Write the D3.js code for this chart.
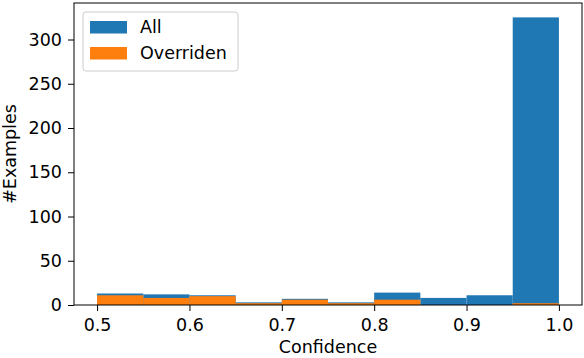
<!DOCTYPE html>
<html>
<head>
<meta charset="utf-8">
<script src="https://cdn.jsdelivr.net/npm/d3@7"></script>
<style>
  body { margin: 0; background: #fff; }
  text { font-family: "DejaVu Sans", sans-serif; }
</style>
</head>
<body>
<div id="chart"></div>
<script>
// histogram bins (10 bins, 0.5 .. 1.0)
var binEdges = [0.5, 0.55, 0.6, 0.65, 0.7, 0.75, 0.8, 0.85, 0.9, 0.95, 1.0];
var allCounts = [13, 12, 11, 3, 7, 3, 14, 8, 11, 325];
var overCounts = [11, 8, 10, 2, 6, 2, 6, 0, 0, 2];
var seriesNames = ["All", "Overriden"];
var seriesColors = ["#1f77b4", "#ff7f0e"];
var xTicks = [0.5, 0.6, 0.7, 0.8, 0.9, 1.0];
var yTicks = [0, 50, 100, 150, 200, 250, 300];

var width = 584, height = 358;
var margin = {top: 3, right: 2, bottom: 53, left: 74};
var fs = 17.5;

var svg = d3.select("#chart").append("svg")
    .attr("width", width)
    .attr("height", height);

var x = d3.scaleLinear()
    .domain([0.475, 1.025])
    .range([margin.left, width - margin.right]);
var y = d3.scaleLinear()
    .domain([0, 341.25])
    .range([height - margin.bottom, margin.top]);

// bars
[allCounts, overCounts].forEach(function(counts, s) {
    svg.append("g").selectAll("rect")
        .data(counts)
        .enter().append("rect")
        .attr("x", function(d, i) { return x(binEdges[i]); })
        .attr("width", function(d, i) { return x(binEdges[i + 1]) - x(binEdges[i]); })
        .attr("y", function(d) { return y(d); })
        .attr("height", function(d) { return y(0) - y(d); })
        .style("fill", seriesColors[s]);
});

// axes
var xAxis = svg.append("g")
    .attr("transform", "translate(0," + (height - margin.bottom) + ")")
    .call(d3.axisBottom(x).tickValues(xTicks).tickFormat(d3.format(".1f")).tickSize(6).tickPadding(8));
var yAxis = svg.append("g")
    .attr("transform", "translate(" + margin.left + ",0)")
    .call(d3.axisLeft(y).tickValues(yTicks).tickSize(6).tickPadding(6));
[xAxis, yAxis].forEach(function(a) {
    a.select(".domain").remove();
    a.selectAll("line").attr("stroke", "#000").attr("stroke-width", 1);
    a.selectAll("text").attr("font-size", fs).attr("fill", "#000")
        .style("font-family", "DejaVu Sans, sans-serif");
});

// frame
svg.append("rect")
    .attr("x", margin.left)
    .attr("y", margin.top)
    .attr("width", width - margin.left - margin.right)
    .attr("height", height - margin.top - margin.bottom)
    .style("fill", "none")
    .style("stroke", "#000")
    .style("stroke-width", 1);

// labels
svg.append("text")
    .attr("x", x(0.75))
    .attr("y", 353)
    .attr("text-anchor", "middle")
    .attr("font-size", fs)
    .text("Confidence");
svg.append("text")
    .attr("transform", "translate(15.5," + ((margin.top + height - margin.bottom) / 2) + ") rotate(-90)")
    .attr("text-anchor", "middle")
    .attr("font-size", fs)
    .text("#Examples");

// legend
var legend = svg.append("g").attr("transform", "translate(83,12)");
legend.append("rect")
    .attr("width", 155).attr("height", 59).attr("rx", 3)
    .style("fill", "#fff").style("fill-opacity", 0.8)
    .style("stroke", "#ccc").style("stroke-width", 1);
seriesNames.forEach(function(name, i) {
    legend.append("rect")
        .attr("x", 7).attr("y", 9 + i * 26)
        .attr("width", 37).attr("height", 12.5)
        .style("fill", seriesColors[i]);
    legend.append("text")
        .attr("x", 57).attr("y", 21 + i * 26)
        .attr("font-size", fs)
        .text(name);
});
</script>
</body>
</html>
